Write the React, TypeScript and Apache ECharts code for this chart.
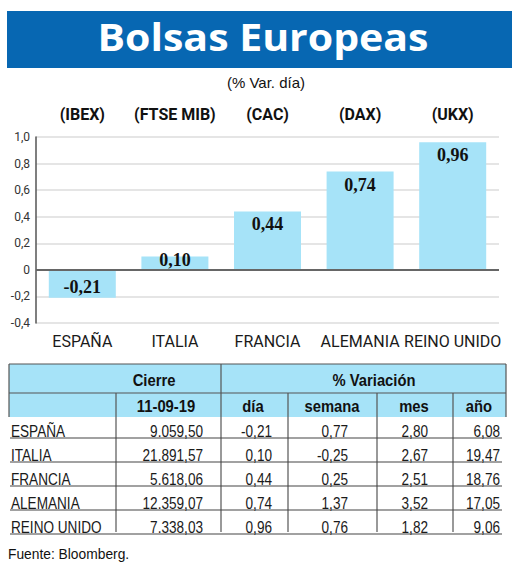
import React, { useEffect, useRef } from "react";
import * as echarts from "echarts";

const countries = ["ESPAÑA", "ITALIA", "FRANCIA", "ALEMANIA", "REINO UNIDO"];
const indexNames = ["(IBEX)", "(FTSE MIB)", "(CAC)", "(DAX)", "(UKX)"];
const dayChange = [-0.21, 0.1, 0.44, 0.74, 0.96];
const closeValues = ["9.059,50", "21.891,57", "5.618,06", "12.359,07", "7.338,03"];
const weekChange = [0.77, -0.25, 0.25, 1.37, 0.76];
const monthChange = [2.8, 2.67, 2.51, 3.52, 1.82];
const yearChange = [6.08, 19.47, 18.76, 17.05, 9.06];
const headerTop = ["Cierre", "% Variación"];
const headerSub = ["11-09-19", "día", "semana", "mes", "año"];

const TITLE = "Bolsas Europeas";
const SUBTITLE = "(% Var. día)";
const SOURCE = "Fuente: Bloomberg.";

const ROBOTO = "Roboto, 'Liberation Sans', sans-serif";
const SANS = "'Liberation Sans', Arial, sans-serif";
const SERIF = "'Liberation Serif', 'Times New Roman', serif";
const BLUE = "#0767b2";
const LIGHT = "#a6e3f8";
const DARK = "#555555";

const fmt2 = (v: number) => v.toFixed(2).replace(".", ",");

export default function App() {
  const ref = useRef<HTMLDivElement>(null);
  useEffect(() => {
    if (!ref.current) return;
    const chart = echarts.init(ref.current, null, { renderer: "svg" });

    const graphics: any[] = [];
    // title
    graphics.push({ type: "rect", shape: { x: 7, y: 11, width: 505, height: 57 }, style: { fill: BLUE } });
    graphics.push({
      type: "text", x: 263, y: 37, scaleX: 1.08,
      style: { text: TITLE, fill: "#fff", fontFamily: "'Open Sans', 'Noto Sans', sans-serif", fontWeight: "bold", fontSize: 38, align: "center", verticalAlign: "middle" },
    });
    graphics.push({
      type: "text", x: 266, y: 82,
      style: { text: SUBTITLE, fill: "#111", fontFamily: SANS, fontSize: 15, align: "center", verticalAlign: "middle" },
    });

    // table
    const L = 9, R = 506, T = 364, mid = 393, hb = 417;
    const rowLines = [438, 462, 486, 510, 534];
    const colX = [116, 221, 288, 377, 453];
    graphics.push({ type: "rect", shape: { x: L, y: T, width: R - L, height: hb - T }, style: { fill: LIGHT } });
    const line = (x1: number, y1: number, x2: number, y2: number, w = 1.2, c = DARK) =>
      graphics.push({ type: "line", shape: { x1, y1, x2, y2 }, style: { stroke: c, lineWidth: w } });
    line(L, T, R, T);
    line(L, T, L, hb);
    line(R, T, R, hb);
    line(L, mid, R, mid);
    line(221, T, 221, 532);
    colX.forEach((x) => { if (x !== 221) line(x, mid, x, 532); });
    rowLines.forEach((y) => line(10, y, 502, y, 1.2, "#444"));

    const hText = (text: string, x: number, y: number) =>
      graphics.push({ type: "text", x, y, scaleX: 0.87, style: { text, fill: "#111", fontFamily: SANS, fontWeight: "bold", fontSize: 17, align: "center", verticalAlign: "middle" } });
    hText(headerTop[0], 154, 380);
    hText(headerTop[1], 374, 380);
    const subCenters = [166, 253, 332, 414, 479];
    headerSub.forEach((h, i) => hText(h, subCenters[i], 406));

    const rightX = [203, 272, 348, 428, 500];
    const bText = (text: string, x: number, y: number, align: string) =>
      graphics.push({ type: "text", x, y, scaleX: 0.8, style: { text, fill: "#1a1a1a", fontFamily: SANS, fontSize: 17, align, verticalAlign: "middle" } });
    countries.forEach((c, i) => {
      const y = rowLines[i] - 7;
      bText(c, 11, y, "left");
      bText(closeValues[i], rightX[0], y, "right");
      bText(fmt2(dayChange[i]), rightX[1], y, "right");
      bText(fmt2(weekChange[i]), rightX[2], y, "right");
      bText(fmt2(monthChange[i]), rightX[3], y, "right");
      bText(fmt2(yearChange[i]), rightX[4], y, "right");
    });
    graphics.push({
      type: "text", x: 8, y: 554, scaleX: 0.92,
      style: { text: SOURCE, fill: "#111", fontFamily: SANS, fontSize: 15, align: "left", verticalAlign: "middle" },
    });

    const barData = dayChange.map((v) => {
      let label: any;
      if (v < 0) label = { position: "inside", offset: [0, 3] };
      else if (v < 0.3) label = { position: "inside", offset: [0, -3] };
      else label = { position: "insideTop", distance: 4 };
      return { value: v, label };
    });

    chart.setOption({
      animation: false,
      grid: { left: 36, right: 21, top: 137, bottom: 242 },
      xAxis: [
        {
          type: "category", data: countries, position: "bottom",
          axisLine: { show: false }, axisTick: { show: false },
          axisLabel: { margin: 10, color: "#1a1a1a", fontFamily: ROBOTO, fontSize: 16, interval: 0 },
        },
        {
          type: "category", data: indexNames, position: "top",
          axisLine: { show: false }, axisTick: { show: false }, splitLine: { show: false },
          axisLabel: { margin: 15, color: "#111", fontFamily: ROBOTO, fontWeight: "bold", fontSize: 16, interval: 0 },
        },
      ],
      yAxis: {
        type: "value", min: -0.4, max: 1.0, interval: 0.2,
        axisLine: { show: true, lineStyle: { color: DARK, width: 1.5 } },
        axisTick: { show: false },
        splitLine: { lineStyle: { color: "#dddddd", width: 1.5 } },
        axisLabel: {
          margin: 6, color: "#333", fontFamily: ROBOTO, fontSize: 12,
          formatter: (v: number) => (Math.abs(v) < 1e-9 ? "0" : v.toFixed(1).replace(".", ",")),
        },
      },
      series: [
        {
          type: "bar", data: barData, barWidth: 67, xAxisIndex: 0,
          itemStyle: { color: LIGHT },
          label: {
            show: true, color: "#111", fontFamily: SERIF, fontWeight: "bold", fontSize: 18,
            formatter: (p: any) => fmt2(p.value),
          },
          markLine: {
            silent: true, symbol: "none", label: { show: false },
            lineStyle: { color: "#666", width: 2, type: "solid" },
            data: [{ yAxis: 0 }],
          },
        },
      ],
      graphic: graphics,
    });
    return () => chart.dispose();
  }, []);
  return <div ref={ref} style={{ position: "absolute", left: 0, top: 0, width: 520, height: 565 }} />;
}
